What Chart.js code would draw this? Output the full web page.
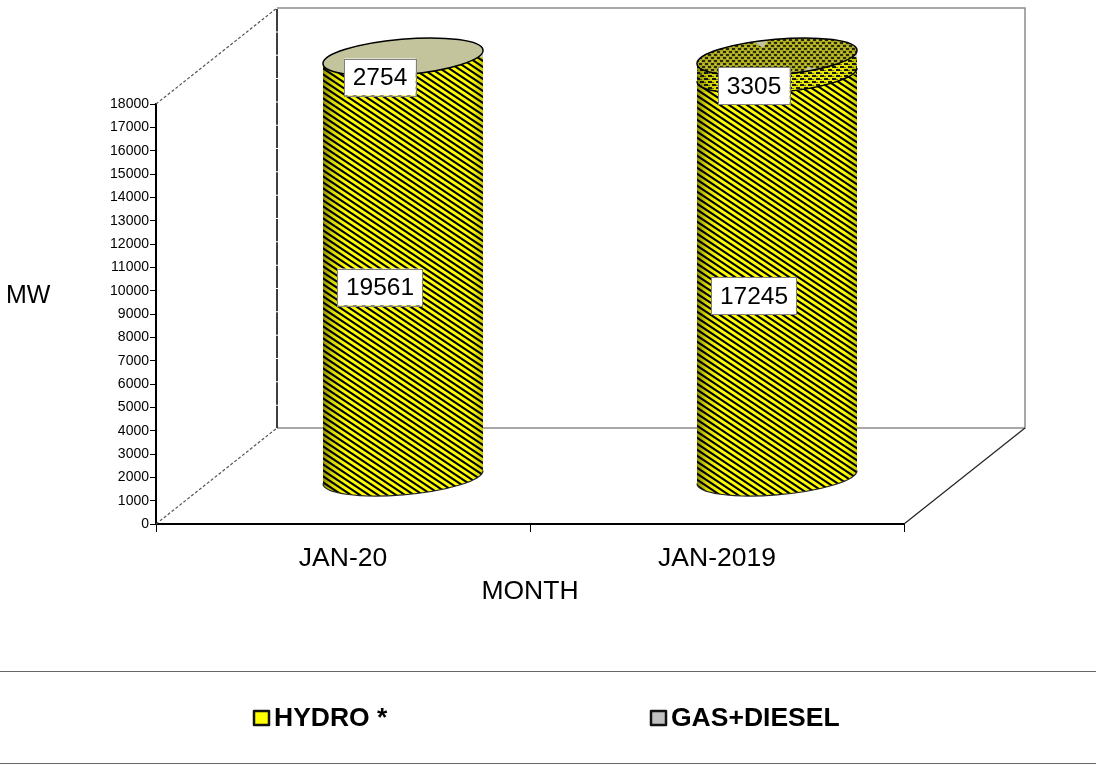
<!DOCTYPE html>
<html>
<head>
<meta charset="utf-8">
<title>MW by month</title>
<script src="https://cdn.jsdelivr.net/npm/chart.js@4/dist/chart.umd.min.js"></script>
<style>
  html, body { margin: 0; padding: 0; background: #fff; }
  canvas { display: block; }
</style>
</head>
<body>
<canvas id="grafica" width="1096" height="765"></canvas>
<script>
// datos
const meses = ['JAN-20', 'JAN-2019']
const hydro = [19561, 17245]
const gasDiesel = [2754, 3305]
const ejeMax = 18000
const paso = 1000

const fuente = 'Liberation Sans'

// tramas de relleno
function trama(w, h, dibujo) {
    const c = document.createElement('canvas')
    c.width = w
    c.height = h
    dibujo(c.getContext('2d'), w, h)
    return c.getContext('2d').createPattern(c, 'repeat')
}
const tramaHydro = trama(9, 6, (g, w, h) => {
    g.fillStyle = '#ffff00'
    g.fillRect(0, 0, w, h)
    g.strokeStyle = '#000'
    g.lineWidth = 2.1
    for (let i = -2; i <= 2; i++) {
        g.beginPath()
        g.moveTo(-w, i * h - h)
        g.lineTo(2 * w, i * h + 2 * h)
        g.stroke()
    }
})
const tramaBanda = trama(8, 6, (g, w, h) => {
    g.fillStyle = '#e8e800'
    g.fillRect(0, 0, w, h)
    g.fillStyle = '#1c1c08'
    g.fillRect(0, 0, 4, 2)
    g.fillRect(4, 3, 4, 2)
    g.fillStyle = '#6c6c40'
    g.fillRect(4, 1, 2, 1)
    g.fillRect(0, 4, 2, 1)
})
const tramaTapa = trama(6, 6, (g, w, h) => {
    g.fillStyle = '#a8a820'
    g.fillRect(0, 0, w, h)
    g.fillStyle = '#2a2a08'
    g.fillRect(0, 0, 3, 2)
    g.fillRect(3, 3, 3, 2)
    g.fillStyle = '#d8d830'
    g.fillRect(4, 1, 1, 1)
    g.fillRect(1, 4, 1, 1)
})
const colorGas = '#c4c49c'
const coloresTapa = [colorGas, tramaTapa]

// cilindro: desplazamiento de profundidad y elipse inclinada
const fondo = { x: 121, y: -96 }
const despl = { x: 60, y: -47 }
const elipse = { a: 80.3, b: 17.8, rot: -4.9 * Math.PI / 180 }
const tPunta = Math.atan((elipse.b / elipse.a) * Math.tan(-elipse.rot))

function arcoDelantero(ctx, cx, cy) {
    ctx.ellipse(cx, cy, elipse.a, elipse.b, elipse.rot, tPunta, tPunta + Math.PI, false)
}
// agrega la silueta al path actual, como subpath propio
function silueta(ctx, cx, yTop, yBase) {
    const c = Math.cos(tPunta), s = Math.sin(tPunta)
    const cr = Math.cos(elipse.rot), sr = Math.sin(elipse.rot)
    ctx.moveTo(cx + elipse.a * c * cr - elipse.b * s * sr, yBase + elipse.a * c * sr + elipse.b * s * cr)
    arcoDelantero(ctx, cx, yBase)
    ctx.ellipse(cx, yTop, elipse.a, elipse.b, elipse.rot, tPunta + Math.PI, tPunta + 2 * Math.PI, false)
    ctx.closePath()
}
function topeVisible(total) {
    return Math.min(total, ejeMax)
}

const cilindros = {
    id: 'cilindros',
    beforeDatasetsDraw(chart) {
        const { ctx, chartArea: a, scales } = chart
        // paredes
        ctx.save()
        ctx.lineWidth = 1.5
        ctx.strokeStyle = '#8c8c8c'
        ctx.beginPath()
        ctx.moveTo(a.left + fondo.x, a.top + fondo.y)
        ctx.lineTo(a.right + fondo.x, a.top + fondo.y)
        ctx.lineTo(a.right + fondo.x, a.bottom + fondo.y)
        ctx.lineTo(a.left + fondo.x, a.bottom + fondo.y)
        ctx.stroke()
        ctx.strokeStyle = '#000'
        ctx.setLineDash([22.33, 1])
        ctx.beginPath()
        ctx.moveTo(a.left + fondo.x, a.bottom + fondo.y)
        ctx.lineTo(a.left + fondo.x, a.top + fondo.y)
        ctx.stroke()
        ctx.setLineDash([3, 2])
        ctx.lineWidth = 1.2
        ctx.strokeStyle = '#555'
        ctx.beginPath()
        ctx.moveTo(a.left, a.top)
        ctx.lineTo(a.left + fondo.x, a.top + fondo.y)
        ctx.moveTo(a.left, a.bottom)
        ctx.lineTo(a.left + fondo.x, a.bottom + fondo.y)
        ctx.stroke()
        ctx.setLineDash([])
        ctx.strokeStyle = '#222'
        ctx.beginPath()
        ctx.moveTo(a.right, a.bottom)
        ctx.lineTo(a.right + fondo.x, a.bottom + fondo.y)
        ctx.stroke()
        ctx.restore()
        // base de cada cilindro, con la trama alineada con la barra
        meses.forEach((m, i) => {
            const cx = chart.getDatasetMeta(0).data[i].x
            const yBase = scales.y.getPixelForValue(0)
            const yTop = scales.y.getPixelForValue(topeVisible(hydro[i] + gasDiesel[i]))
            ctx.save()
            ctx.translate(despl.x, despl.y)
            ctx.beginPath()
            silueta(ctx, cx, yTop, yBase)
            ctx.clip()
            ctx.fillStyle = tramaHydro
            ctx.fillRect(cx - elipse.a - 2, yBase - 10, 2 * elipse.a + 4, 40)
            ctx.restore()
        })
    },
    beforeDatasetDraw(chart) {
        const { ctx, scales } = chart
        ctx.save()
        ctx.translate(despl.x, despl.y)
        // las barras quedan dentro de la silueta de los cilindros
        ctx.beginPath()
        meses.forEach((m, i) => {
            silueta(ctx, chart.getDatasetMeta(0).data[i].x, scales.y.getPixelForValue(ejeMax), scales.y.getPixelForValue(0))
        })
        ctx.clip()
    },
    afterDatasetDraw(chart) {
        chart.ctx.restore()
    },
    afterDatasetsDraw(chart) {
        const { ctx, scales } = chart
        meses.forEach((m, i) => {
            const cx = chart.getDatasetMeta(0).data[i].x + despl.x
            const yBase = scales.y.getPixelForValue(0) + despl.y
            const yTop = scales.y.getPixelForValue(ejeMax) + despl.y
            ctx.save()
            // cambio de serie
            if (hydro[i] < ejeMax) {
                const yCambio = scales.y.getPixelForValue(hydro[i]) + despl.y
                ctx.save()
                ctx.beginPath()
                silueta(ctx, cx, yTop, yBase)
                ctx.clip()
                ctx.beginPath()
                ctx.ellipse(cx, yCambio, elipse.a, elipse.b, elipse.rot, 0, 2 * Math.PI)
                ctx.rect(cx - elipse.a - 2, yTop, 2 * elipse.a + 4, yCambio - yTop)
                ctx.fillStyle = chart.data.datasets[1].backgroundColor[i]
                ctx.fill('nonzero')
                ctx.restore()
                ctx.beginPath()
                arcoDelantero(ctx, cx, yCambio)
                ctx.lineWidth = 1.5
                ctx.strokeStyle = '#000'
                ctx.stroke()
            }
            // sombra lateral
            const grad = ctx.createLinearGradient(cx - elipse.a, 0, cx + elipse.a, 0)
            grad.addColorStop(0, 'rgba(0,0,0,0.45)')
            grad.addColorStop(0.06, 'rgba(0,0,0,0.15)')
            grad.addColorStop(0.15, 'rgba(0,0,0,0)')
            grad.addColorStop(0.92, 'rgba(0,0,0,0)')
            grad.addColorStop(1, 'rgba(0,0,0,0.2)')
            ctx.beginPath()
            silueta(ctx, cx, yTop, yBase)
            ctx.fillStyle = grad
            ctx.fill()
            // tapa
            ctx.beginPath()
            ctx.ellipse(cx, yTop, elipse.a, elipse.b, elipse.rot, 0, 2 * Math.PI)
            ctx.fillStyle = coloresTapa[i]
            ctx.fill()
            if (coloresTapa[i] !== colorGas) {
                // huecos de la trama en la tapa
                ctx.save()
                ctx.clip()
                ctx.fillStyle = colorGas
                ctx.beginPath()
                ctx.moveTo(cx - 25, yTop - 16)
                ctx.lineTo(cx - 9, yTop - 17)
                ctx.lineTo(cx - 14, yTop - 9)
                ctx.closePath()
                ctx.moveTo(cx + 25, yTop + 15)
                ctx.lineTo(cx + 31, yTop + 10)
                ctx.lineTo(cx + 49, yTop + 13)
                ctx.closePath()
                ctx.fill()
                ctx.restore()
            }
            ctx.lineWidth = 1.5
            ctx.strokeStyle = '#000'
            ctx.beginPath()
            ctx.ellipse(cx, yTop, elipse.a, elipse.b, elipse.rot, 0, 2 * Math.PI)
            ctx.stroke()
            // borde inferior
            ctx.beginPath()
            arcoDelantero(ctx, cx, yBase)
            ctx.lineWidth = 1.2
            ctx.strokeStyle = '#222'
            ctx.stroke()
            ctx.restore()
        })
    },
    afterDraw(chart) {
        const { ctx, scales } = chart
        ctx.save()
        // etiquetas de valor
        ctx.font = `24.5px "${fuente}"`
        ctx.textAlign = 'center'
        ctx.textBaseline = 'middle'
        meses.forEach((m, i) => {
            const partes = [
                [hydro[i], 0, hydro[i]],
                [gasDiesel[i], hydro[i], hydro[i] + gasDiesel[i]]
            ]
            partes.forEach(([valor, desde, hasta]) => {
                const medio = (topeVisible(desde) + topeVisible(hasta)) / 2
                const x = chart.getDatasetMeta(0).data[i].x + 37
                const y = scales.y.getPixelForValue(medio) - 27.5
                const ancho = ctx.measureText(String(valor)).width + 17
                ctx.fillStyle = '#fff'
                ctx.strokeStyle = '#808080'
                ctx.lineWidth = 1
                ctx.fillRect(x - ancho / 2, y - 18, ancho, 37)
                ctx.strokeRect(Math.round(x - ancho / 2) + 0.5, Math.round(y - 18) + 0.5, Math.round(ancho), 37)
                ctx.fillStyle = '#000'
                ctx.fillText(String(valor), x, y + 2)
            })
        })
        // titulo del eje y, horizontal
        ctx.textAlign = 'left'
        ctx.font = `25px "${fuente}"`
        ctx.fillText('MW', 6, 296)
        // lineas del recuadro de leyenda
        ctx.strokeStyle = '#666'
        ctx.lineWidth = 1.2
        ctx.beginPath()
        ctx.moveTo(0, 671.5)
        ctx.lineTo(1096, 671.5)
        ctx.moveTo(0, 763.5)
        ctx.lineTo(1096, 763.5)
        ctx.stroke()
        // leyenda
        const xLeyenda = [254, 651]
        const colorLeyenda = ['#ffff00', '#c0c0c0']
        chart.data.datasets.forEach((ds, i) => {
            ctx.fillStyle = colorLeyenda[i]
            ctx.strokeStyle = '#111'
            ctx.lineWidth = 2.5
            ctx.lineJoin = 'round'
            ctx.fillRect(xLeyenda[i], 711, 15, 14)
            ctx.strokeRect(xLeyenda[i], 711, 15, 14)
            ctx.fillStyle = '#000'
            ctx.font = `bold 26.5px "${fuente}"`
            ctx.fillText(ds.label, xLeyenda[i] + 20, 719)
        })
        ctx.restore()
    }
}

new Chart(document.getElementById('grafica').getContext('2d'), {
    type: 'bar',
    data: {
        labels: meses,
        datasets: [
            { label: 'HYDRO *', data: hydro, backgroundColor: tramaHydro, barThickness: 160 },
            { label: 'GAS+DIESEL', data: gasDiesel, backgroundColor: [colorGas, tramaBanda], barThickness: 160 }
        ]
    },
    options: {
        responsive: false,
        animation: false,
        layout: { padding: { left: 0, top: 104, right: 192, bottom: 140 } },
        plugins: {
            legend: { display: false },
            title: { display: false },
            tooltip: { enabled: false }
        },
        scales: {
            x: {
                stacked: true,
                afterFit(s) { s.height = 101 },
                border: { color: '#000', width: 2 },
                grid: { drawOnChartArea: false, drawTicks: true, tickLength: 8, color: '#000' },
                ticks: { color: '#000', padding: 11, font: { family: fuente, size: 26.5 } },
                title: { display: true, text: 'MONTH', color: '#000', padding: { top: 0, bottom: 17.5 }, font: { family: fuente, size: 26.5 } }
            },
            y: {
                stacked: true,
                min: 0,
                max: ejeMax,
                afterFit(s) { s.width = 156 },
                border: { color: '#000', width: 2 },
                grid: { drawOnChartArea: false, drawTicks: true, tickLength: 6, color: '#000' },
                ticks: { stepSize: paso, autoSkip: false, color: '#000', padding: 1, font: { family: fuente, size: 14 }, format: { useGrouping: false } }
            }
        }
    },
    plugins: [cilindros]
})
</script>
</body>
</html>
